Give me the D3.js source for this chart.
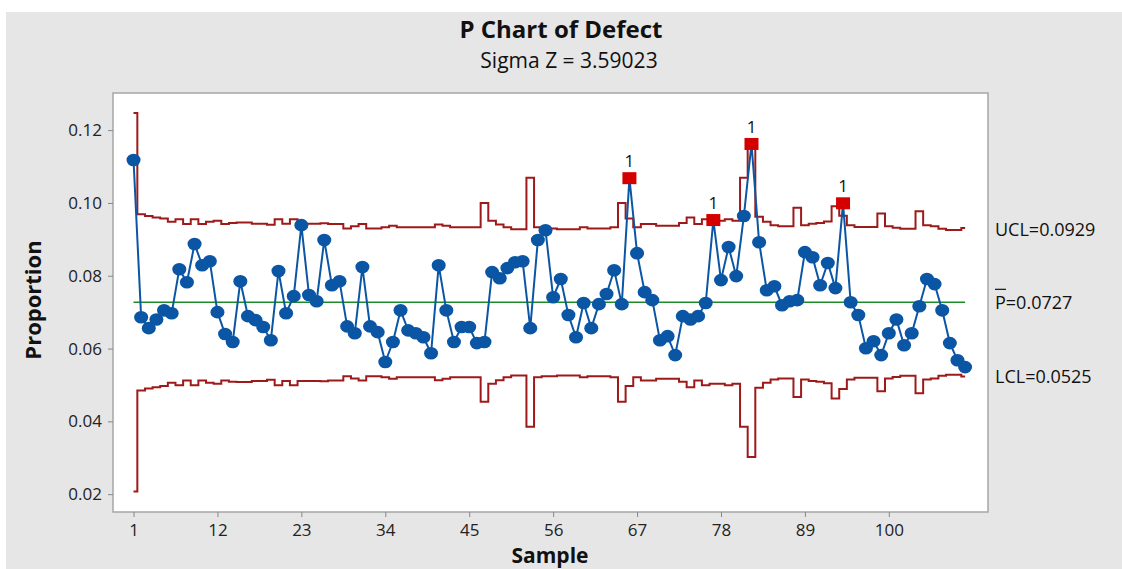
<!DOCTYPE html>
<html>
<head>
<meta charset="utf-8">
<script src="https://cdn.jsdelivr.net/npm/d3@7"></script>
<style>
	body { margin: 0; background: white; }
	svg text { font-family: "Open Sans", "Noto Sans", sans-serif; }
</style>
</head>
<body>
<svg id="chart" width="1122" height="569"></svg>
<script>
// proportion defective per sample (1..110)
var proportion = [
	0.1118, 0.0686, 0.0656, 0.0680, 0.0705, 0.0697, 0.0818, 0.0782, 0.0887, 0.0829,
	0.0840, 0.0700, 0.0640, 0.0618, 0.0785, 0.0689, 0.0678, 0.0659, 0.0623, 0.0813,
	0.0697, 0.0744, 0.0939, 0.0747, 0.0730, 0.0898, 0.0774, 0.0785, 0.0661, 0.0642,
	0.0824, 0.0661, 0.0645, 0.0563, 0.0618, 0.0705, 0.0650, 0.0642, 0.0631, 0.0587,
	0.0829, 0.0705, 0.0618, 0.0659, 0.0659, 0.0615, 0.0618, 0.0810, 0.0793, 0.0821,
	0.0837, 0.0840, 0.0656, 0.0898, 0.0925, 0.0741, 0.0791, 0.0692, 0.0631, 0.0725,
	0.0656, 0.0722, 0.0750, 0.0815, 0.0722, 0.1068, 0.0862, 0.0755, 0.0733, 0.0623,
	0.0634, 0.0582, 0.0689, 0.0680, 0.0689, 0.0725, 0.0953, 0.0788, 0.0879, 0.0799,
	0.0964, 0.1162, 0.0892, 0.0760, 0.0771, 0.0719, 0.0730, 0.0733, 0.0865, 0.0851,
	0.0774, 0.0835, 0.0766, 0.0999, 0.0727, 0.0692, 0.0601, 0.0620, 0.0582, 0.0642,
	0.0680, 0.0609, 0.0642, 0.0716, 0.0791, 0.0777, 0.0705, 0.0615, 0.0568, 0.0549
];

// upper control limit per sample
var ucl = [
	0.1247, 0.0969, 0.0964, 0.0960, 0.0957, 0.0948, 0.0955, 0.0942, 0.0955, 0.0942,
	0.0948, 0.0951, 0.0942, 0.0945, 0.0946, 0.0946, 0.0943, 0.0943, 0.0940, 0.0955,
	0.0943, 0.0955, 0.0943, 0.0943, 0.0943, 0.0944, 0.0942, 0.0942, 0.0930, 0.0936,
	0.0942, 0.0930, 0.0930, 0.0933, 0.0937, 0.0933, 0.0933, 0.0933, 0.0933, 0.0933,
	0.0941, 0.0937, 0.0933, 0.0933, 0.0933, 0.0933, 0.1000, 0.0951, 0.0941, 0.0933,
	0.0928, 0.0928, 0.1069, 0.0933, 0.0930, 0.0930, 0.0928, 0.0928, 0.0928, 0.0933,
	0.0930, 0.0930, 0.0930, 0.0933, 0.1000, 0.0957, 0.0933, 0.0942, 0.0942, 0.0937,
	0.0937, 0.0937, 0.0945, 0.0960, 0.0942, 0.0955, 0.0951, 0.0951, 0.0955, 0.0951,
	0.1069, 0.1152, 0.0962, 0.0948, 0.0939, 0.0936, 0.0936, 0.0987, 0.0939, 0.0943,
	0.0945, 0.0949, 0.0991, 0.0965, 0.0939, 0.0934, 0.0934, 0.0934, 0.0971, 0.0936,
	0.0932, 0.0929, 0.0929, 0.0977, 0.0939, 0.0936, 0.0929, 0.0926, 0.0926, 0.0931
];

// lower control limit per sample
var lcl = [
	0.0207, 0.0485, 0.0490, 0.0494, 0.0497, 0.0506, 0.0499, 0.0512, 0.0499, 0.0512,
	0.0506, 0.0503, 0.0512, 0.0509, 0.0508, 0.0508, 0.0511, 0.0511, 0.0514, 0.0499,
	0.0511, 0.0499, 0.0511, 0.0511, 0.0511, 0.0510, 0.0512, 0.0512, 0.0524, 0.0518,
	0.0512, 0.0524, 0.0524, 0.0521, 0.0517, 0.0521, 0.0521, 0.0521, 0.0521, 0.0521,
	0.0513, 0.0517, 0.0521, 0.0521, 0.0521, 0.0521, 0.0454, 0.0503, 0.0513, 0.0521,
	0.0526, 0.0526, 0.0385, 0.0521, 0.0524, 0.0524, 0.0526, 0.0526, 0.0526, 0.0521,
	0.0524, 0.0524, 0.0524, 0.0521, 0.0454, 0.0497, 0.0521, 0.0512, 0.0512, 0.0517,
	0.0517, 0.0517, 0.0509, 0.0494, 0.0512, 0.0499, 0.0503, 0.0503, 0.0499, 0.0503,
	0.0385, 0.0302, 0.0492, 0.0506, 0.0515, 0.0518, 0.0518, 0.0467, 0.0515, 0.0511,
	0.0509, 0.0505, 0.0463, 0.0489, 0.0515, 0.0520, 0.0520, 0.0520, 0.0483, 0.0518,
	0.0522, 0.0525, 0.0525, 0.0477, 0.0515, 0.0518, 0.0525, 0.0528, 0.0528, 0.0523
];

var pBar = 0.0727;
var uclLast = 0.0929;
var lclLast = 0.0525;
var outOfControl = [66, 77, 82, 94];
var yTicks = [0.02, 0.04, 0.06, 0.08, 0.10, 0.12];
var xTicks = [1, 12, 23, 34, 45, 56, 67, 78, 89, 100];

var svg = d3.select("#chart");
var frame = { left: 113, top: 93, right: 988, bottom: 512 };

var x = d3.scaleLinear().domain([-1.69, 113.0]).range([frame.left, frame.right]);
var y = d3.scaleLinear().domain([0.0151, 0.1302]).range([frame.bottom, frame.top]);

// background
svg.append("rect")
	.attr("x", 6).attr("y", 12)
	.attr("width", 1116).attr("height", 557)
	.attr("fill", "#e6e6e6");

svg.append("rect")
	.attr("x", frame.left).attr("y", frame.top)
	.attr("width", frame.right - frame.left)
	.attr("height", frame.bottom - frame.top)
	.attr("fill", "white")
	.attr("stroke", "#a6a6a6")
	.attr("stroke-width", 1.5);

// titles
svg.append("text")
	.attr("x", 561).attr("y", 38)
	.attr("text-anchor", "middle")
	.attr("font-size", "24px")
	.attr("font-weight", "bold")
	.attr("fill", "#111")
	.text("P Chart of Defect");
svg.append("text")
	.attr("x", 569).attr("y", 68)
	.attr("text-anchor", "middle")
	.attr("font-size", "21px")
	.attr("fill", "#111")
	.text("Sigma Z = 3.59023");

// axes
var yAxis = d3.axisLeft(y)
	.tickValues(yTicks)
	.tickFormat(d3.format(".2f"))
	.tickSize(5)
	.tickSizeOuter(0);
var gy = svg.append("g")
	.attr("transform", "translate(" + frame.left + ",0)")
	.call(yAxis);
gy.select(".domain").remove();
gy.selectAll("line").attr("stroke", "#888");
gy.selectAll("text")
	.attr("font-size", "17px")
	.attr("fill", "#222")
	.attr("x", -11);

var xAxis = d3.axisBottom(x)
	.tickValues(xTicks)
	.tickSize(5)
	.tickSizeOuter(0);
var gx = svg.append("g")
	.attr("transform", "translate(0," + frame.bottom + ")")
	.call(xAxis);
gx.select(".domain").remove();
gx.selectAll("line").attr("stroke", "#888");
gx.selectAll("text")
	.attr("font-size", "17px")
	.attr("fill", "#222")
	.attr("y", 12);

svg.append("text")
	.attr("transform", "translate(41,300) rotate(-90)")
	.attr("text-anchor", "middle")
	.attr("font-size", "22px")
	.attr("font-weight", "bold")
	.attr("fill", "#111")
	.text("Proportion");
svg.append("text")
	.attr("x", 550).attr("y", 563)
	.attr("text-anchor", "middle")
	.attr("font-size", "21px")
	.attr("font-weight", "bold")
	.attr("fill", "#111")
	.text("Sample");

var samples = d3.range(1, proportion.length + 1);

// control limits as steps
var stepLine = d3.line()
	.x(function(d) { return x(d[0]); })
	.y(function(d) { return y(d[1]); })
	.curve(d3.curveStep);

[ucl, lcl].forEach(function(lim) {
	var pts = samples.map(function(s, i) { return [s, lim[i]]; });
	svg.append("path")
		.attr("d", stepLine(pts))
		.attr("fill", "none")
		.attr("stroke", "#9e1a1a")
		.attr("stroke-width", 2);
});

// center line
svg.append("line")
	.attr("x1", x(1)).attr("x2", x(samples.length))
	.attr("y1", y(pBar)).attr("y2", y(pBar))
	.attr("stroke", "#1f8a2a")
	.attr("stroke-width", 1.5);

// data
var dataLine = d3.line()
	.x(function(d, i) { return x(i + 1); })
	.y(function(d) { return y(d); });
svg.append("path")
	.attr("d", dataLine(proportion))
	.attr("fill", "none")
	.attr("stroke", "#0b56a4")
	.attr("stroke-width", 2);

svg.selectAll(".pt")
	.data(samples.filter(function(s) { return outOfControl.indexOf(s) < 0; }))
	.enter().append("ellipse")
	.attr("class", "pt")
	.attr("cx", function(s) { return x(s); })
	.attr("cy", function(s) { return y(proportion[s - 1]); })
	.attr("rx", 7).attr("ry", 6.3)
	.attr("fill", "#0b56a4");

svg.selectAll(".bad")
	.data(outOfControl)
	.enter().append("rect")
	.attr("class", "bad")
	.attr("x", function(s) { return x(s) - 7; })
	.attr("y", function(s) { return y(proportion[s - 1]) - 6; })
	.attr("width", 14).attr("height", 12)
	.attr("fill", "#d40000");

svg.selectAll(".badlabel")
	.data(outOfControl)
	.enter().append("text")
	.attr("class", "badlabel")
	.attr("x", function(s) { return x(s); })
	.attr("y", function(s) { return y(proportion[s - 1]) - 11; })
	.attr("text-anchor", "middle")
	.attr("font-size", "17px")
	.attr("fill", "#111")
	.text("1");

// limit labels
var labX = 995;
svg.append("text")
	.attr("x", labX).attr("y", y(uclLast) + 7)
	.attr("font-size", "18px").attr("fill", "#111")
	.text("UCL=" + uclLast);
svg.append("text")
	.attr("x", labX).attr("y", y(pBar) + 7)
	.attr("font-size", "18px").attr("fill", "#111")
	.text("P=" + pBar);
svg.append("line")
	.attr("x1", labX).attr("x2", labX + 11)
	.attr("y1", y(pBar) - 13).attr("y2", y(pBar) - 13)
	.attr("stroke", "#111").attr("stroke-width", 1.2);
svg.append("text")
	.attr("x", labX).attr("y", y(lclLast) + 7)
	.attr("font-size", "18px").attr("fill", "#111")
	.text("LCL=" + lclLast);
</script>
</body>
</html>
